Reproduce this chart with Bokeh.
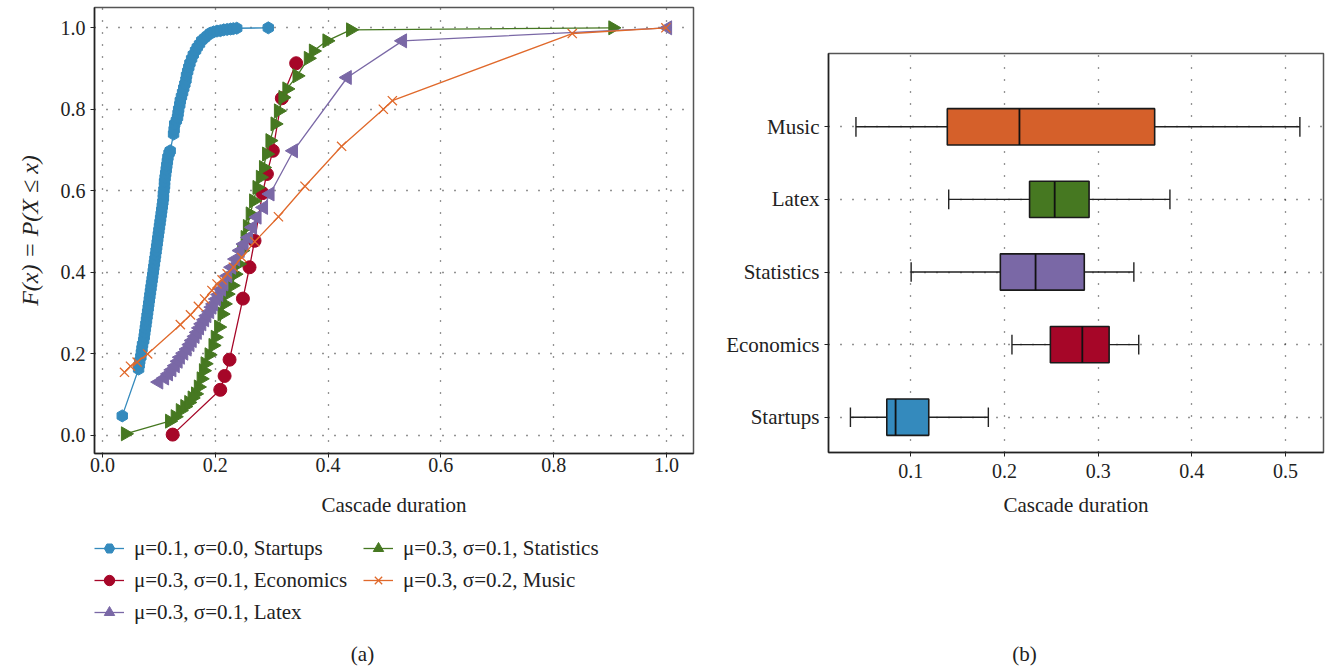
import numpy as np
from bokeh.plotting import figure
from bokeh.models import (Range1d, FixedTicker, Legend, LegendItem, Label, Spacer,
                          NumeralTickFormatter, CustomJSTickFormatter, ColumnDataSource)
from bokeh.transform import dodge
from bokeh.layouts import row, column
from bokeh.embed import file_html
from bokeh.resources import INLINE

FONT = "Liberation Serif"

# ---------------- data: panel (a) CDFs ----------------
startups_x = [0.035, 0.064, 0.065, 0.066, 0.068, 0.069, 0.070, 0.071, 0.073, 0.074, 0.075,
              0.076, 0.077, 0.078, 0.079, 0.080, 0.081, 0.082, 0.083, 0.084, 0.085, 0.086,
              0.087, 0.088, 0.089, 0.090, 0.091, 0.092, 0.093, 0.094, 0.095, 0.096, 0.097,
              0.098, 0.099, 0.100, 0.101, 0.102, 0.103, 0.104, 0.105, 0.106, 0.107, 0.108,
              0.108, 0.109, 0.110, 0.110, 0.111, 0.112, 0.113, 0.114, 0.115, 0.116, 0.118,
              0.120,
              0.126, 0.127, 0.128, 0.131, 0.133, 0.134, 0.135, 0.137, 0.138, 0.140, 0.142,
              0.144, 0.146, 0.148, 0.149, 0.151, 0.153, 0.155, 0.158, 0.161, 0.165, 0.168,
              0.172, 0.176, 0.181, 0.186, 0.191, 0.197, 0.203, 0.209, 0.215, 0.221, 0.227,
              0.232, 0.238, 0.294]
startups_y = [0.047, 0.162, 0.172, 0.182, 0.192, 0.202, 0.212, 0.222, 0.232, 0.242, 0.252,
              0.262, 0.272, 0.282, 0.292, 0.302, 0.312, 0.322, 0.332, 0.342, 0.352, 0.362,
              0.372, 0.382, 0.392, 0.402, 0.412, 0.422, 0.432, 0.442, 0.452, 0.462, 0.472,
              0.482, 0.492, 0.502, 0.512, 0.522, 0.532, 0.542, 0.552, 0.562, 0.572, 0.582,
              0.592, 0.602, 0.612, 0.622, 0.632, 0.642, 0.652, 0.662, 0.672, 0.682, 0.692,
              0.698,
              0.739, 0.750, 0.764, 0.772, 0.780, 0.790, 0.800, 0.811, 0.821, 0.831, 0.841,
              0.852, 0.862, 0.872, 0.883, 0.893, 0.903, 0.913, 0.924, 0.934, 0.944, 0.952,
              0.960, 0.969, 0.975, 0.981, 0.987, 0.990, 0.992, 0.993, 0.995, 0.996, 0.997,
              0.998, 0.999, 1.000]

economics_x = [0.1244, 0.2088, 0.2165, 0.2253, 0.249, 0.2607, 0.2696, 0.2837, 0.2915,
               0.302, 0.318, 0.3434]
economics_y = [0.001, 0.111, 0.145, 0.185, 0.335, 0.412, 0.477, 0.594, 0.641, 0.698,
               0.827, 0.913]

latex_x = [0.0997, 0.110, 0.117, 0.123, 0.129, 0.134, 0.138, 0.144, 0.150, 0.155, 0.159,
           0.164, 0.168, 0.172, 0.176, 0.181, 0.185, 0.190, 0.194, 0.197, 0.202, 0.206,
           0.211, 0.215, 0.222, 0.229, 0.236, 0.244, 0.251, 0.259, 0.266, 0.274, 0.2855,
           0.297, 0.3386, 0.434, 0.532, 1.002]
latex_y = [0.130, 0.140, 0.150, 0.160, 0.170, 0.181, 0.191, 0.201, 0.211, 0.222, 0.232,
           0.242, 0.252, 0.263, 0.273, 0.283, 0.293, 0.303, 0.314, 0.322, 0.334, 0.345,
           0.358, 0.371, 0.391, 0.412, 0.432, 0.453, 0.469, 0.485, 0.510, 0.535, 0.559,
           0.592, 0.698, 0.878, 0.968, 1.000]

statistics_x = [0.0407, 0.119, 0.129, 0.138, 0.146, 0.153, 0.159, 0.165, 0.170, 0.175,
                0.179, 0.182, 0.189, 0.196, 0.200, 0.206, 0.212, 0.216, 0.221, 0.230,
                0.235, 0.241, 0.247, 0.253, 0.257, 0.262, 0.268, 0.274, 0.280, 0.2855,
                0.291, 0.297, 0.306, 0.312, 0.320, 0.327, 0.345, 0.365, 0.374, 0.398,
                0.440, 0.905]
statistics_y = [0.003, 0.034, 0.045, 0.060, 0.070, 0.080, 0.091, 0.101, 0.118, 0.138,
                0.158, 0.175, 0.197, 0.220, 0.240, 0.265, 0.297, 0.322, 0.346, 0.367,
                0.395, 0.420, 0.453, 0.485, 0.512, 0.543, 0.575, 0.608, 0.633, 0.657,
                0.690, 0.723, 0.764, 0.796, 0.829, 0.850, 0.882, 0.925, 0.943, 0.968,
                0.995, 1.000]

music_x = [0.039, 0.0496, 0.0614, 0.080, 0.138, 0.156, 0.170, 0.181, 0.194, 0.203, 0.212,
           0.221, 0.232, 0.247, 0.270, 0.312, 0.359, 0.424, 0.498, 0.514, 0.833, 0.999]
music_y = [0.154, 0.169, 0.179, 0.199, 0.271, 0.295, 0.316, 0.334, 0.355, 0.371, 0.381,
           0.396, 0.412, 0.436, 0.475, 0.536, 0.611, 0.709, 0.800, 0.821, 0.986, 1.000]

cdf_ticks = [0.0, 0.2, 0.4, 0.6, 0.8, 1.0]
legend_labels = ["μ=0.1, σ=0.0, Startups", "μ=0.3, σ=0.1, Economics",
                 "μ=0.3, σ=0.1, Latex", "μ=0.3, σ=0.1, Statistics",
                 "μ=0.3, σ=0.2, Music"]

# ---------------- data: panel (b) box plots ----------------
box_names = ["Startups", "Economics", "Statistics", "Latex", "Music"]
box_pos = [1, 2, 3, 4, 5]
box_low = [0.0356, 0.208, 0.1004, 0.1405, 0.0415]
box_q1 = [0.0744, 0.249, 0.1956, 0.2268, 0.139]
box_med = [0.0838, 0.2831, 0.2332, 0.2536, 0.216]
box_q3 = [0.1192, 0.3117, 0.2852, 0.2903, 0.3603]
box_high = [0.1828, 0.3433, 0.3381, 0.3766, 0.5153]
box_colors = ["#348ABD", "#A60628", "#7A68A6", "#467821", "#D5602A"]
box_ticks = [0.1, 0.2, 0.3, 0.4, 0.5]

BLUE, RED, PURPLE, GREEN, ORANGE = "#348ABD", "#A60628", "#7A68A6", "#467821", "#E0692B"
TXT = "#222222"


def style_axes(p):
    for ax in (p.xaxis[0], p.yaxis[0]):
        ax.major_label_text_font = FONT
        ax.major_label_text_font_size = "20px"
        ax.major_label_text_color = TXT
        ax.axis_label_text_font = FONT
        ax.axis_label_text_font_size = "21px"
        ax.axis_label_text_color = TXT
        ax.axis_label_text_font_style = "normal"
        ax.axis_line_color = TXT
        ax.axis_line_width = 1.5
        ax.major_tick_line_color = TXT
        ax.major_tick_out = 4
        ax.major_tick_in = 0
        ax.minor_tick_line_color = None
    for g in (p.xgrid[0], p.ygrid[0]):
        g.grid_line_color = "#111111"
        g.grid_line_dash = "1 11"
        g.grid_line_width = 1.3
        g.grid_line_alpha = 0.9
    p.outline_line_color = "#555555"
    p.outline_line_width = 1.5
    p.background_fill_color = "white"
    p.border_fill_color = "white"


def blank_fig(w, h, xr=(0, 1)):
    f = figure(width=w, height=h, output_backend="svg", toolbar_location=None,
               x_axis_type=None, y_axis_type=None, x_range=Range1d(*xr),
               y_range=Range1d(0, 1), min_border=0)
    f.grid.visible = False
    f.outline_line_color = None
    f.border_fill_color = "white"
    f.background_fill_color = "white"
    return f


def draw_series(f, xs, ys):
    lw = 1.3
    st = (f.line(xs[0], ys[0], line_color=BLUE, line_width=lw),
          f.scatter(xs[0], ys[0], marker="hex", size=12, angle=np.pi / 2,
                    fill_color=BLUE, line_color=BLUE))
    ec = (f.line(xs[1], ys[1], line_color=RED, line_width=lw),
          f.scatter(xs[1], ys[1], marker="circle", size=13,
                    fill_color=RED, line_color=RED))
    sa = (f.line(xs[3], ys[3], line_color=GREEN, line_width=lw),
          f.scatter(xs[3], ys[3], marker="triangle", size=14, angle=-np.pi / 2,
                    fill_color=GREEN, line_color=GREEN))
    la = (f.line(xs[2], ys[2], line_color=PURPLE, line_width=lw),
          f.scatter(xs[2], ys[2], marker="triangle", size=14, angle=np.pi / 2,
                    fill_color=PURPLE, line_color=PURPLE))
    mu = (f.line(xs[4], ys[4], line_color=ORANGE, line_width=lw),
          f.scatter(xs[4], ys[4], marker="x", size=13, line_color=ORANGE,
                    line_width=1.3))
    return [st, ec, la, sa, mu]


all_x = [startups_x, economics_x, latex_x, statistics_x, music_x]
all_y = [startups_y, economics_y, latex_y, statistics_y, music_y]

# ---------------- panel (a) ----------------
p1 = figure(width=720, height=529, output_backend="svg", toolbar_location=None,
            x_range=Range1d(-0.0142, 1.048), y_range=Range1d(-0.0454, 1.0499),
            min_border_left=94, min_border_right=27, min_border_top=7,
            min_border_bottom=76)
style_axes(p1)
p1.xaxis.ticker = FixedTicker(ticks=cdf_ticks)
p1.yaxis.ticker = FixedTicker(ticks=cdf_ticks)
p1.xaxis.formatter = NumeralTickFormatter(format="0.0")
p1.yaxis.formatter = NumeralTickFormatter(format="0.0")
p1.xaxis.major_label_standoff = 0
p1.xaxis.axis_label_standoff = 18
p1.yaxis.axis_label_standoff = 15
p1.xaxis.axis_label = "Cascade duration"
p1.yaxis.axis_label = "F(x) = P(X ≤ x)"
p1.yaxis.axis_label_text_font_style = "italic"
p1.yaxis.axis_label_text_font_size = "24px"

draw_series(p1, all_x, all_y)

# legend panel under (a): the same series, kept outside this panel's visible range,
# so that only the legend entries show
leg_fig = blank_fig(720, 138, xr=(5, 6))
leg_r = draw_series(leg_fig, [v[:1] for v in all_x], [v[:1] for v in all_y])
legend = Legend(items=[LegendItem(label=lab, renderers=list(r))
                       for lab, r in zip(legend_labels, leg_r)],
                orientation="vertical", nrows=3, location=(0, 42))
legend.label_text_font = FONT
legend.label_text_font_size = "21px"
legend.label_text_color = TXT
legend.glyph_width = 30
legend.glyph_height = 26
legend.label_standoff = 10
legend.spacing = 6
legend.label_width = 223
legend.padding = 3
legend.margin = 0
legend.border_line_color = None
legend.background_fill_alpha = 0
leg_fig.add_layout(legend, "center")
leg_fig.add_layout(Label(x=268, y=14, x_units="screen", y_units="screen", text="(a)",
                         text_align="center", text_baseline="middle", text_font=FONT,
                         text_font_size="21px", text_color=TXT))

# ---------------- panel (b) ----------------
p2 = figure(width=609, height=482, output_backend="svg", toolbar_location=None,
            x_range=Range1d(0.0122, 0.5405), y_range=Range1d(0.514, 6.01),
            min_border_left=108, min_border_right=6, min_border_top=7,
            min_border_bottom=76)
style_axes(p2)
p2.xaxis.ticker = FixedTicker(ticks=box_ticks)
p2.xaxis.formatter = NumeralTickFormatter(format="0.0")
p2.xaxis.major_label_standoff = 7
p2.xaxis.axis_label_standoff = 12
p2.yaxis.ticker = FixedTicker(ticks=box_pos)
p2.yaxis.formatter = CustomJSTickFormatter(args=dict(names=box_names),
                                           code="return names[Math.round(tick) - 1] || '';")
p2.xaxis.axis_label = "Cascade duration"
p2.yaxis.major_label_text_font_size = "21px"

src = ColumnDataSource(dict(pos=box_pos, low=box_low, q1=box_q1, med=box_med,
                            q3=box_q3, high=box_high, color=box_colors))
wc = "#222222"
p2.segment(x0="low", y0="pos", x1="q1", y1="pos", source=src, line_color=wc, line_width=1.4)
p2.segment(x0="q3", y0="pos", x1="high", y1="pos", source=src, line_color=wc, line_width=1.4)
p2.segment(x0="low", y0=dodge("pos", -0.135), x1="low", y1=dodge("pos", 0.135),
           source=src, line_color=wc, line_width=1.4)
p2.segment(x0="high", y0=dodge("pos", -0.135), x1="high", y1=dodge("pos", 0.135),
           source=src, line_color=wc, line_width=1.4)
p2.hbar(y="pos", left="q1", right="q3", height=0.5, source=src, fill_color="color",
        line_color="#1a1a1a", line_width=1.6)
p2.segment(x0="med", y0=dodge("pos", -0.25), x1="med", y1=dodge("pos", 0.25),
           source=src, line_color="#111111", line_width=1.8)

cap_fig = blank_fig(609, 139)
cap_fig.add_layout(Label(x=196, y=14, x_units="screen", y_units="screen", text="(b)",
                         text_align="center", text_baseline="middle", text_font=FONT,
                         text_font_size="21px", text_color=TXT))

left = column(p1, leg_fig, spacing=0)
right = column(Spacer(width=609, height=46), p2, cap_fig, spacing=0)
layout = row(left, right, spacing=0)
open("out.html", "w").write(file_html(layout, INLINE))
